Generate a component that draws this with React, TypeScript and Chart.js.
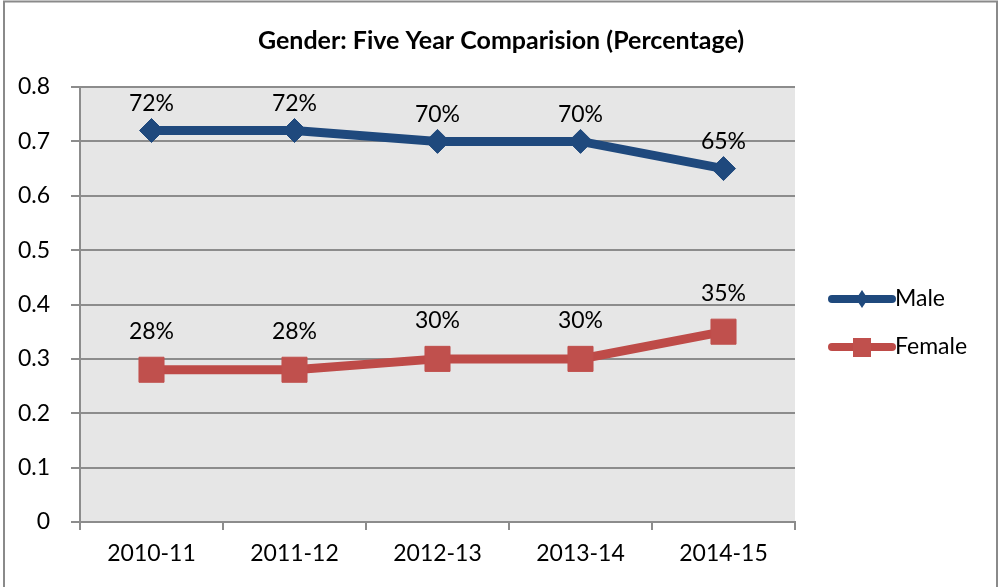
import React, { useEffect, useRef } from 'react';
import { Chart, registerables } from 'chart.js';

Chart.register(...registerables);

const TITLE = 'Gender: Five Year Comparision (Percentage)';
const categories = ['2010-11', '2011-12', '2012-13', '2013-14', '2014-15'];
const maleValues = [0.72, 0.72, 0.7, 0.7, 0.65];
const femaleValues = [0.28, 0.28, 0.3, 0.3, 0.35];
const seriesNames = ['Male', 'Female'];
const yMin = 0;
const yMax = 0.8;
const yStep = 0.1;

const MALE_COLOR = '#1F497D';
const FEMALE_LINE = '#BE4B48';
const FEMALE_MARKER = '#C0504D';
const GRID = '#8c8c8c';
const FONT = 'Lato, "Open Sans", sans-serif';

const decorPlugin = {
  id: 'decor',
  beforeDraw(chart: any) {
    const { ctx, chartArea } = chart;
    ctx.save();
    ctx.fillStyle = '#ffffff';
    ctx.fillRect(0, 0, chart.width, chart.height);
    ctx.fillStyle = '#e6e6e6';
    ctx.fillRect(chartArea.left, chartArea.top, chartArea.right - chartArea.left, chartArea.bottom - chartArea.top);
    ctx.restore();
  },
  afterDatasetsDraw(chart: any) {
    const { ctx } = chart;
    ctx.save();
    ctx.font = `23px ${FONT}`;
    ctx.fillStyle = '#000';
    ctx.textAlign = 'center';
    ctx.textBaseline = 'middle';
    const offsets = [27, 38];
    chart.data.datasets.forEach((ds: any, di: number) => {
      const meta = chart.getDatasetMeta(di);
      meta.data.forEach((pt: any, i: number) => {
        const v = ds.data[i] as number;
        ctx.fillText(`${Math.round(v * 100)}%`, pt.x, pt.y - offsets[di]);
      });
    });
    ctx.restore();
  },
  afterDraw(chart: any) {
    const { ctx } = chart;
    ctx.save();
    // title
    ctx.font = `bold 25px ${FONT}`;
    ctx.fillStyle = '#000';
    ctx.textAlign = 'center';
    ctx.textBaseline = 'middle';
    ctx.fillText(TITLE, 501, 41);

    // legend
    const lx0 = 832;
    const lx1 = 892;
    const rows = [299, 347];
    ctx.lineCap = 'round';
    ctx.lineWidth = 8;
    ctx.strokeStyle = MALE_COLOR;
    ctx.beginPath();
    ctx.moveTo(lx0, rows[0]);
    ctx.lineTo(lx1, rows[0]);
    ctx.stroke();
    ctx.fillStyle = MALE_COLOR;
    ctx.beginPath();
    const cx = (lx0 + lx1) / 2;
    ctx.moveTo(cx, rows[0] - 9);
    ctx.lineTo(cx + 6, rows[0]);
    ctx.lineTo(cx, rows[0] + 9);
    ctx.lineTo(cx - 6, rows[0]);
    ctx.closePath();
    ctx.fill();
    ctx.strokeStyle = FEMALE_LINE;
    ctx.beginPath();
    ctx.moveTo(lx0, rows[1]);
    ctx.lineTo(lx1, rows[1]);
    ctx.stroke();
    ctx.fillStyle = FEMALE_MARKER;
    ctx.fillRect(cx - 9, rows[1] - 9, 18, 19);

    ctx.fillStyle = '#000';
    ctx.font = `23px ${FONT}`;
    ctx.textAlign = 'left';
    ctx.textBaseline = 'middle';
    ctx.fillText(seriesNames[0], 895, rows[0]);
    ctx.fillText(seriesNames[1], 895, rows[1]);

    // outer border
    ctx.strokeStyle = '#8a8a8a';
    ctx.lineWidth = 2;
    ctx.lineCap = 'butt';
    ctx.beginPath();
    ctx.moveTo(4, 600);
    ctx.lineTo(4, 1.5);
    ctx.lineTo(997, 1.5);
    ctx.lineTo(997, 600);
    ctx.stroke();
    ctx.restore();
  },
};

export default function App() {
  const canvasRef = useRef<HTMLCanvasElement | null>(null);

  useEffect(() => {
    const canvas = canvasRef.current;
    if (!canvas) return;
    const chart = new Chart(canvas, {
      type: 'line',
      data: {
        labels: categories,
        datasets: [
          {
            label: seriesNames[0],
            data: maleValues,
            borderColor: MALE_COLOR,
            backgroundColor: MALE_COLOR,
            borderWidth: 9,
            pointStyle: 'rectRot',
            pointRadius: 12,
            pointBorderWidth: 1,
            pointBackgroundColor: MALE_COLOR,
            pointBorderColor: MALE_COLOR,
            tension: 0,
            fill: false,
          },
          {
            label: seriesNames[1],
            data: femaleValues,
            borderColor: FEMALE_LINE,
            backgroundColor: FEMALE_MARKER,
            borderWidth: 9,
            pointStyle: 'rect',
            pointRadius: 17.7,
            pointBorderWidth: 1,
            pointBackgroundColor: FEMALE_MARKER,
            pointBorderColor: FEMALE_MARKER,
            tension: 0,
            fill: false,
          },
        ],
      },
      options: {
        responsive: false,
        animation: false,
        devicePixelRatio: 1,
        layout: { padding: { top: 87, right: 205, left: 0, bottom: 0 } },
        plugins: {
          legend: { display: false },
          title: { display: false },
          tooltip: { enabled: false },
        },
        scales: {
          x: {
            type: 'category',
            offset: true,
            grid: {
              offset: true,
              drawOnChartArea: false,
              drawTicks: true,
              tickLength: 8,
              color: GRID,
              lineWidth: 2,
            },
            border: { display: true, color: GRID, width: 2 },
            ticks: {
              color: '#000',
              font: { family: FONT, size: 23 },
              padding: 10,
              maxRotation: 0,
              autoSkip: false,
            },
            afterFit: (scale: any) => {
              scale.height = 65;
            },
          },
          y: {
            min: yMin,
            max: yMax,
            grid: { color: GRID, lineWidth: 2, tickLength: 9, drawTicks: true },
            border: { display: true, color: GRID, width: 2 },
            ticks: {
              stepSize: yStep,
              color: '#000',
              font: { family: FONT, size: 23 },
              padding: 21,
              callback: (v: any) => (Number(v) === 0 ? '0' : Number(v).toFixed(1)),
            },
            afterFit: (scale: any) => {
              scale.width = 80;
            },
          },
        },
      },
      plugins: [decorPlugin],
    });
    return () => chart.destroy();
  }, []);

  return (
    <div style={{ position: 'absolute', left: 0, top: 0, width: 1000, height: 587 }}>
      <canvas ref={canvasRef} width={1000} height={587} style={{ display: 'block' }} />
    </div>
  );
}
